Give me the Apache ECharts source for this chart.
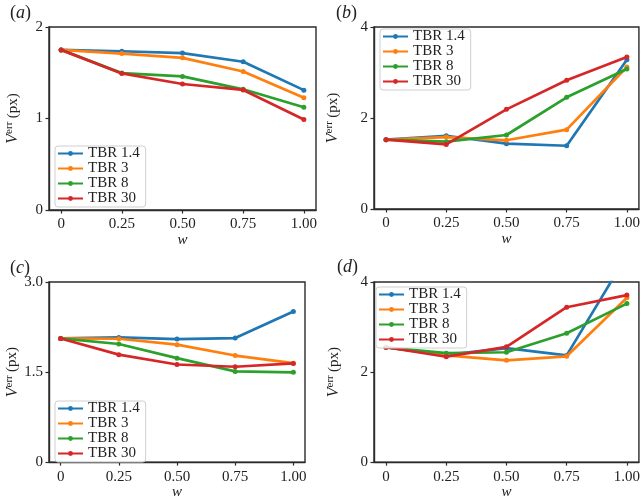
<!DOCTYPE html>
<html>
<head>
<meta charset="utf-8">
<script src="https://cdn.jsdelivr.net/npm/echarts@6/dist/echarts.min.js"></script>
<style>html,body{margin:0;padding:0;background:#fff;}#c{width:643px;height:501px;}</style>
</head>
<body>
<div id="c"></div>
<script>
// ---- data ----
const seriesNames = ['TBR 1.4', 'TBR 3', 'TBR 8', 'TBR 30'];
const wValues = [0, 0.25, 0.5, 0.75, 1.0];
const xTickValues = [0, 0.25, 0.5, 0.75, 1.0];
const xTickLabels = ['0', '0.25', '0.50', '0.75', '1.00'];

// panel (a)
const a_tbr14 = [1.75, 1.735, 1.715, 1.62, 1.31];
const a_tbr3  = [1.75, 1.71, 1.663, 1.514, 1.228];
const a_tbr8  = [1.75, 1.496, 1.46, 1.319, 1.123];
const a_tbr30 = [1.75, 1.493, 1.377, 1.312, 0.989];
// panel (b)
const b_tbr14 = [1.524, 1.61, 1.436, 1.39, 3.28];
const b_tbr3  = [1.524, 1.58, 1.51, 1.744, 3.12];
const b_tbr8  = [1.524, 1.48, 1.626, 2.454, 3.077];
const b_tbr30 = [1.524, 1.42, 2.19, 2.83, 3.34];
// panel (c)
const c_tbr14 = [2.06, 2.077, 2.05, 2.066, 2.51];
const c_tbr3  = [2.06, 2.055, 1.956, 1.775, 1.648];
const c_tbr8  = [2.06, 1.967, 1.731, 1.511, 1.495];
const c_tbr30 = [2.06, 1.79, 1.626, 1.588, 1.643];
// panel (d)
const d_tbr14 = [2.55, 2.38, 2.53, 2.37, 4.59];
const d_tbr3  = [2.55, 2.37, 2.26, 2.35, 3.65];
const d_tbr8  = [2.55, 2.42, 2.44, 2.86, 3.52];
const d_tbr30 = [2.55, 2.34, 2.56, 3.44, 3.71];

// y-axis ticks
const yTicksA = [0, 1, 2];
const yTicksB = [0, 2, 4];
const yTicksC = [0, 1.5, 3.0];
const yTicksD = [0, 2, 4];
const yTickLabelsC = ['0', '1.5', '3.0'];

const panelLabels = ['a', 'b', 'c', 'd'];
const colors = ['#1f77b4', '#ff7f0e', '#2ca02c', '#d62728'];

// ---- layout ----
const SERIF = "'Liberation Serif', 'Times New Roman', Times, serif";
const TXT = '#222';
const AX = '#2b2b2b';
const grids = [
  {left: 49, top: 27, width: 267, height: 183},
  {left: 374, top: 27, width: 266, height: 182},
  {left: 49, top: 282, width: 256, height: 182},
  {left: 374, top: 282, width: 266, height: 182}
];
const panels = [
  {data: [a_tbr14, a_tbr3, a_tbr8, a_tbr30], ticks: yTicksA, labels: null, nameGap: 27},
  {data: [b_tbr14, b_tbr3, b_tbr8, b_tbr30], ticks: yTicksB, labels: null, nameGap: 32},
  {data: [c_tbr14, c_tbr3, c_tbr8, c_tbr30], ticks: yTicksC, labels: yTickLabelsC, nameGap: 27},
  {data: [d_tbr14, d_tbr3, d_tbr8, d_tbr30], ticks: yTicksD, labels: null, nameGap: 31}
];
const legendPos = [
  {left: 55, top: 146},
  {left: 380, top: 29},
  {left: 55, top: 401},
  {left: 376, top: 287}
];
const labelPos = [[10, 4], [336, 4], [10, 259], [337, 258]];

const xAxes = [], yAxes = [], series = [], legends = [], graphics = [];
grids.forEach((g, i) => {
  g.show = true; g.borderColor = AX; g.borderWidth = 1.4; g.backgroundColor = '#fff';
  const p = panels[i];
  xAxes.push({
    type: 'value', gridIndex: i, min: -0.05, max: 1.05,
    name: 'w', nameLocation: 'middle', nameGap: 22,
    nameTextStyle: {fontFamily: SERIF, fontStyle: 'italic', fontSize: 15, color: TXT},
    axisLine: {show: true, onZero: false, lineStyle: {color: AX, width: 1.4}},
    axisTick: {show: true, length: 3.5, lineStyle: {color: AX, width: 1.2}, customValues: xTickValues},
    axisLabel: {customValues: xTickValues, fontFamily: SERIF, fontSize: 15, color: TXT, margin: 7,
      formatter: v => { const k = xTickValues.findIndex(t => Math.abs(t - v) < 1e-9); return k >= 0 ? xTickLabels[k] : ''; }},
    splitLine: {show: false}
  });
  const yt = p.ticks;
  yAxes.push({
    type: 'value', gridIndex: i, min: yt[0], max: yt[yt.length - 1], interval: yt[1] - yt[0],
    name: '{v|V}{s|err} {n|(px)}', nameLocation: 'middle', nameGap: p.nameGap, nameRotate: 90,
    nameTextStyle: {color: TXT, rich: {
      v: {fontFamily: SERIF, fontStyle: 'italic', fontSize: 16, color: TXT},
      s: {fontFamily: SERIF, fontSize: 11, color: TXT, padding: [0, 0, 7, 0]},
      n: {fontFamily: SERIF, fontSize: 15, color: TXT}
    }},
    axisLine: {show: true, onZero: false, lineStyle: {color: AX, width: 1.4}},
    axisTick: {show: true, length: 3.5, lineStyle: {color: AX, width: 1.2}},
    axisLabel: {fontFamily: SERIF, fontSize: 15, color: TXT, margin: 6,
      formatter: v => { if (p.labels) { const k = yt.findIndex(t => Math.abs(t - v) < 1e-9); return k >= 0 ? p.labels[k] : ''; } return String(v); }},
    splitLine: {show: false}
  });
  p.data.forEach((arr, s) => {
    series.push({
      type: 'line', name: seriesNames[s], xAxisIndex: i, yAxisIndex: i,
      data: wValues.map((w, k) => [w, arr[k]]),
      color: colors[s], symbol: 'circle', symbolSize: 5, showSymbol: true,
      lineStyle: {width: 2.7, color: colors[s]}, itemStyle: {color: colors[s]},
      clip: true, animation: false, emphasis: {disabled: true}, z: 2 + s
    });
  });
  legends.push({
    data: seriesNames, orient: 'vertical', left: legendPos[i].left, top: legendPos[i].top,
    itemWidth: 25, itemHeight: 6, itemGap: 0,
    textStyle: {fontFamily: SERIF, fontSize: 15, lineHeight: 13.5, color: TXT},
    borderColor: '#cfcfcf', borderWidth: 1, borderRadius: 3, padding: [0, 6, 1, 2],
    backgroundColor: 'rgba(255,255,255,0.85)', selectedMode: false, z: 10
  });
  graphics.push({
    type: 'text', left: labelPos[i][0], top: labelPos[i][1],
    style: {text: '{p|(}{l|' + panelLabels[i] + '}{p|)}', fill: TXT,
      rich: {p: {fontFamily: SERIF, fontSize: 18, fill: TXT}, l: {fontFamily: SERIF, fontStyle: 'italic', fontSize: 18, fill: TXT}}}
  });
});

const chart = echarts.init(document.getElementById('c'), null, {renderer: 'canvas'});
chart.setOption({
  animation: false, backgroundColor: '#fff',
  grid: grids, xAxis: xAxes, yAxis: yAxes, series: series, legend: legends, graphic: graphics
});
</script>
</body>
</html>
